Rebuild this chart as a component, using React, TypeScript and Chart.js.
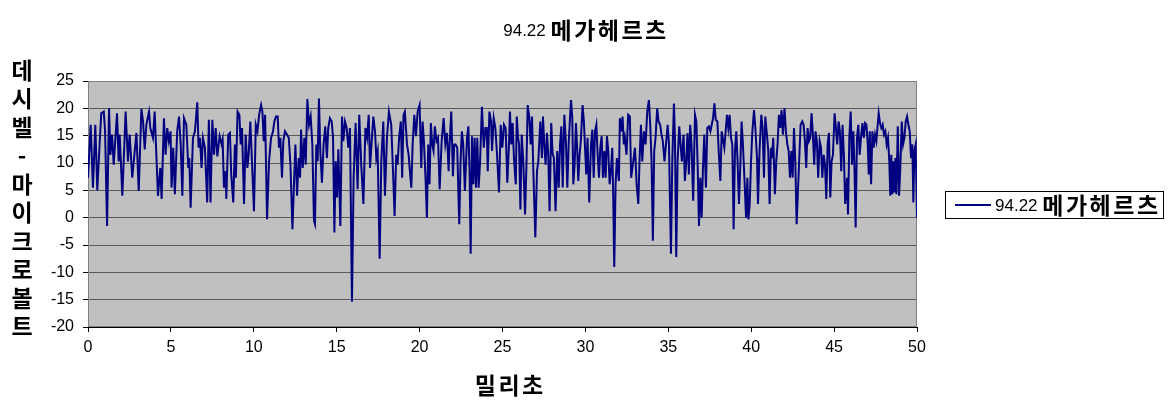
import React, { useEffect, useRef } from "react";
import { Chart, registerables } from "chart.js";

Chart.register(...registerables);

const titleNumber = "94.22";
const titleKorean = "메가헤르츠";
const seriesNumber = "94.22";
const seriesKorean = "메가헤르츠";
const yTitleChars = ["데", "시", "벨", "-", "마", "이", "크", "로", "볼", "트"];
const xTitle = "밀리초";
const xMin = 0;
const xMax = 50;
const xStep = 5;
const yMin = -20;
const yMax = 25;
const yStep = 5;

// time in milliseconds
const timeMs = [
  0.00, 0.16, 0.30, 0.44, 0.56, 0.70, 0.80, 0.95, 1.03, 1.15, 1.27, 1.35,
  1.45, 1.55, 1.75, 1.85, 1.91, 2.07, 2.27, 2.41, 2.51, 2.67, 2.92, 3.06,
  3.22, 3.32, 3.42, 3.52, 3.68, 3.76, 3.92, 4.02, 4.22, 4.36, 4.44,
  4.58, 4.68, 4.78, 4.88, 4.98, 5.04, 5.14, 5.24, 5.38, 5.49, 5.59, 5.69,
  5.79, 5.93, 6.05, 6.11, 6.19, 6.33, 6.45, 6.59, 6.67, 6.75, 6.85, 6.93,
  7.05, 7.19, 7.29, 7.39, 7.50, 7.60, 7.70, 7.80, 7.94, 8.06, 8.12, 8.20,
  8.30, 8.34, 8.46, 8.56, 8.64, 8.76, 8.86, 8.92, 9.02,
  9.13, 9.21, 9.29, 9.41, 9.51, 9.61, 9.69, 9.79, 9.89, 10.01, 10.12, 10.22,
  10.32, 10.44, 10.52, 10.60, 10.68, 10.80, 10.92, 11.04, 11.16, 11.24, 11.34, 11.44,
  11.52, 11.60, 11.70, 11.78, 11.88, 12.00, 12.11, 12.21, 12.33, 12.43, 12.51, 12.61,
  12.71, 12.79, 12.85, 12.95, 13.05, 13.13, 13.23, 13.33, 13.43, 13.53, 13.63,
  13.69, 13.77, 13.85, 13.93, 14.01, 14.11, 14.21, 14.31, 14.41, 14.49, 14.59, 14.70,
  14.78, 14.86, 14.94, 15.02, 15.10, 15.22, 15.32, 15.40, 15.50, 15.60, 15.70, 15.80,
  15.92, 16.02, 16.14, 16.26, 16.36, 16.48, 16.61, 16.73, 16.83, 16.93, 17.01, 17.11,
  17.21, 17.31, 17.39, 17.47, 17.59, 17.69, 17.81, 17.91, 18.03, 18.15,
  18.29, 18.39, 18.49, 18.59, 18.67, 18.77, 18.87, 18.95, 19.03, 19.11, 19.24, 19.34,
  19.40, 19.50, 19.58, 19.68, 19.78, 19.88, 20.00, 20.10, 20.18, 20.26, 20.36, 20.44,
  20.52, 20.60, 20.68, 20.76, 20.84, 20.92, 21.02, 21.11, 21.21, 21.33, 21.45, 21.55,
  21.65, 21.75, 21.81, 21.91, 22.01, 22.09, 22.17, 22.27, 22.39, 22.47, 22.55, 22.63, 22.73,
  22.86, 22.94, 23.02, 23.08, 23.16, 23.24, 23.32, 23.40, 23.48, 23.56, 23.64, 23.76,
  23.87, 23.97, 24.05, 24.11, 24.21, 24.31, 24.37, 24.47, 24.57, 24.67, 24.79, 24.89,
  24.99, 25.09, 25.19, 25.29, 25.39, 25.45, 25.53, 25.61, 25.69, 25.80, 25.86, 25.94,
  26.00, 26.08, 26.16, 26.26, 26.36, 26.44, 26.52, 26.62, 26.70, 26.78, 26.86, 26.98,
  27.08, 27.16, 27.28, 27.38,
  27.44, 27.52, 27.60, 27.68, 27.76, 27.84, 27.94, 28.02, 28.10, 28.20, 28.30, 28.39,
  28.47, 28.55, 28.63, 28.73, 28.83, 28.91, 28.99, 29.05, 29.13, 29.21, 29.27, 29.35,
  29.43, 29.51, 29.57, 29.65, 29.73, 29.83, 29.91, 29.97, 30.05, 30.13, 30.23, 30.34,
  30.42, 30.50, 30.58, 30.66, 30.74, 30.82, 30.90, 30.98, 31.06, 31.14, 31.22, 31.30,
  31.38, 31.46, 31.54, 31.62, 31.68, 31.74, 31.82, 31.90,
  32.02, 32.08, 32.16, 32.24, 32.32, 32.38, 32.48, 32.58, 32.68, 32.76, 32.86, 32.99,
  33.09, 33.19, 33.27, 33.35, 33.43, 33.53, 33.63, 33.73, 33.83, 33.91, 33.99, 34.07,
  34.15, 34.23, 34.33, 34.41, 34.51, 34.59, 34.67, 34.77, 34.86, 34.96, 35.04, 35.16,
  35.24, 35.34, 35.40, 35.48, 35.56, 35.66, 35.74, 35.82, 35.92, 36.00, 36.08, 36.16,
  36.24, 36.32, 36.40, 36.50,
  36.61, 36.69, 36.77, 36.85, 36.93, 37.01, 37.09, 37.17, 37.27, 37.35, 37.45, 37.54,
  37.62, 37.70, 37.78, 37.86, 37.96, 38.04, 38.14, 38.22, 38.30, 38.38, 38.46, 38.54,
  38.62, 38.70, 38.78, 38.86, 38.94, 39.02, 39.10, 39.18, 39.26, 39.34, 39.42, 39.50,
  39.59, 39.69, 39.77, 39.83, 39.91, 39.99, 40.07, 40.17, 40.25, 40.35, 40.41, 40.51,
  40.61, 40.69, 40.77, 40.85, 40.95, 41.03, 41.11,
  41.19, 41.25, 41.33, 41.43, 41.51, 41.59, 41.67, 41.75, 41.83, 41.91, 42.01, 42.09,
  42.18, 42.26, 42.34, 42.42, 42.50, 42.58, 42.66, 42.74, 42.82, 42.90, 42.98, 43.08,
  43.16, 43.24, 43.32, 43.40, 43.48, 43.56, 43.64, 43.72, 43.80, 43.88, 43.96, 44.04,
  44.13, 44.21, 44.29, 44.37, 44.45, 44.53, 44.61, 44.69, 44.77, 44.85, 44.93, 45.03,
  45.11, 45.19, 45.27, 45.35, 45.43, 45.51, 45.59, 45.67,
  45.78, 45.84, 45.92, 46.00, 46.08, 46.16, 46.22, 46.30, 46.38, 46.46, 46.54, 46.62,
  46.71, 46.79, 46.87, 46.95, 47.03, 47.09, 47.15, 47.23, 47.31, 47.39, 47.47, 47.55,
  47.63, 47.69, 47.77, 47.85, 47.93, 48.01, 48.09, 48.17, 48.25, 48.33, 48.39, 48.45,
  48.51, 48.57, 48.63, 48.70, 48.76, 48.84, 48.92, 49.00, 49.08, 49.16, 49.24, 49.32,
  49.40, 49.48, 49.56, 49.64, 49.72, 49.78, 49.84, 49.92, 50.00,
];

// level in dB microvolts
const levelDb = [
  7.3, 17.0, 5.5, 17.0, 5.0, 13.4, 19.1, 19.4, 15.8, -1.5, 20.0, 11.5,
  15.2, 9.7, 19.1, 10.3, 15.2, 4.0, 19.4, 10.3, 15.2, 7.3, 15.5, 4.9,
  19.9, 17.6, 12.5, 17.0, 19.4, 16.4, 14.6, 19.4, 4.0, 9.1, 3.4,
  18.2, 11.5, 16.4, 14.0, 15.8, 5.5, 12.8, 4.3, 15.8, 18.5, 13.4, 4.0,
  18.2, 17.0, 9.1, 10.9, 1.8, 14.6, 15.8, 21.1, 12.8, 14.6, 9.1, 14.6,
  12.8, 2.8, 17.9, 2.8, 17.9, 11.5, 16.4, 11.2, 14.9, 13.4, 14.3, 5.5,
  8.5, 3.4, 15.2, 15.5, 7.9, 2.8, 13.4, 7.3, 19.4,
  18.8, 13.4, 16.4, 2.5, 15.2, 9.1, 11.5, 17.6, 10.3, 1.2, 17.0, 15.8,
  18.8, 20.6, 19.4, 14.0, 18.8, -0.3, 10.3, 14.6, 15.8, 17.6, 18.5, 18.5,
  12.8, 14.6, 7.3, 14.0, 15.8, 15.2, 14.6, 9.7, -2.1, 6.7, 13.4, 4.0,
  10.9, 7.3, 16.1, 9.1, 14.6, 9.7, 21.7, 17.0, 18.5, 13.4, -0.6,
  -1.2, 13.4, 10.3, 21.8, 12.2, 6.4, 13.4, 16.7, 10.9, 16.4, 18.2, 17.6,
  14.6, -2.7, 10.3, 3.7, 12.5, -1.5, 18.5, 14.0, 17.6, 16.4, 12.8, 16.4,
  -15.4, 7.3, 17.3, 5.2, 18.8, 9.7, 2.5, 16.4, 14.6, 18.8, 9.1, 14.0,
  18.5, 15.8, 10.9, 12.2, -7.5, 10.3, 17.6, 4.0, 14.6, 19.4,
  17.0, 9.1, 0.3, 11.5, 9.7, 14.9, 17.6, 7.3, 18.8, 19.4, 13.4, 11.5,
  9.1, 5.5, 13.4, 18.8, 14.9, 19.4, 20.6, 9.1, 17.6, 14.0, 7.0, 0.0,
  13.4, 6.1, 17.3, 13.4, 12.2, 16.7, 14.0, 14.6, 5.2, 14.0, 18.2, 13.4,
  15.5, 8.5, 13.4, 19.4, 7.6, 13.4, 13.4, 12.8, -1.2, 10.3, 15.8, 13.4, 4.9,
  14.6, 16.7, 7.3, -6.6, 14.9, 6.1, 14.6, 5.5, 14.6, 5.5, 9.7, 20.3,
  12.8, 16.4, 16.4, 8.5, 19.4, 17.6, 12.2, 18.2, 16.4, 11.5, 4.6, 17.0,
  12.8, 17.0, 16.4, 6.4, 13.4, 19.4, 13.4, 17.3, 10.9, 6.1, 18.5, 14.6,
  13.4, 1.5, 15.2, 9.7, 0.6, 9.1, 20.6, 18.2, 13.4, 18.5, 8.5, -3.6,
  8.5, 10.3, 17.6, 10.9,
  18.5, 13.4, 9.7, 15.5, 11.5, 1.2, 17.3, 11.8, 10.9, 1.2, 12.2, 5.5,
  13.4, 16.7, 5.5, 18.8, 13.4, 5.5, 13.4, 17.0, 21.5, 18.2, 6.1, 9.7,
  17.3, 12.2, 6.7, 11.5, 14.3, 20.6, 17.6, 13.4, 7.9, 14.6, 2.8, 13.4,
  16.1, 7.3, 15.8, 17.0, 11.5, 7.3, 12.8, 14.9, 7.3, 12.2, 7.3, 14.9,
  12.2, 6.1, 8.5, 12.8, 3.7, -9.0, 6.1, 10.9,
  6.7, 18.2, 15.8, 18.5, 13.4, 14.6, 11.5, 18.8, 18.5, 7.3, 9.7, 12.8,
  6.1, 2.5, 10.9, 17.0, 10.3, 15.8, 13.4, 19.4, 21.5, 17.0, 10.3, -4.2,
  12.2, 14.6, 20.0, 17.6, 17.0, 15.2, 14.0, 10.3, 13.4, 17.0, 13.4, -6.6,
  10.3, 20.9, 14.6, -7.2, 10.3, 16.7, 13.4, 10.3, 15.2, 6.7, 10.3, 15.5,
  7.9, 17.0, 13.4, 3.1,
  18.8, 17.6, 9.7, -1.5, 7.3, 0.0, 9.1, 15.2, 5.5, 16.4, 16.7, 15.8,
  17.0, 18.2, 20.9, 17.9, 17.6, 12.2, 6.7, 15.8, 14.3, 12.8, 15.8, 18.8,
  16.4, 18.8, 14.6, 13.4, -2.1, 12.2, 15.8, 10.3, 2.5, 9.1, 17.6, 13.4,
  7.3, 0.0, 7.3, -0.3, 2.5, 10.3, 15.8, 19.7, 16.4, 10.9, 2.5, 12.8,
  18.8, 16.4, 7.3, 18.5, 15.2, 12.2, 2.5,
  12.8, 10.9, 14.6, 4.3, 10.3, 13.4, 18.8, 16.4, 19.7, 15.2, 20.0, 15.8,
  13.4, 12.2, 7.3, 12.2, 7.3, 16.4, 10.3, -1.2, 4.9, 10.9, 17.0, 17.6,
  17.0, 14.0, 9.1, 16.4, 14.0, 14.6, 19.1, 15.2, 9.7, 15.8, 14.0, 7.3,
  14.0, 12.8, 7.3, 11.5, 9.7, 3.4, 13.4, 15.5, 3.7, 10.3, 11.5, 19.1,
  16.4, 13.4, 17.6, 15.8, 8.5, 17.0, 11.5, 2.5,
  7.3, 0.6, 14.9, 19.4, 9.7, 15.8, 10.3, -1.8, 14.6, 17.0, 11.5, 14.6,
  17.3, 14.6, 17.3, 17.0, 13.4, 7.9, 15.8, 6.1, 15.8, 12.8, 15.2, 14.0,
  17.0, 19.1, 17.3, 16.4, 17.0, 15.2, 15.8, 13.4, 14.6, 10.3, 4.0, 11.5,
  4.3, 10.3, 4.6, 10.9, 4.3, 16.7, 4.0, 9.7, 17.6, 13.4, 14.6, 17.6,
  18.5, 17.0, 15.8, 10.9, 13.4, 2.8, 12.2, 13.4, 0.0,
];

const LINE_COLOR = "#000080";
const NUM_FONT = '"Liberation Sans", Arial, sans-serif';
const KO_FONT = '"Noto Sans CJK KR", "Noto Sans", sans-serif';
const KO_SIZE = 23;
const KO_SPACING = 2.5;

function setKo(ctx: any) {
  ctx.font = `bold ${KO_SIZE}px ${KO_FONT}`;
  ctx.letterSpacing = `${KO_SPACING}px`;
}
function setNum(ctx: any, size: number) {
  ctx.font = `${size}px ${NUM_FONT}`;
  ctx.letterSpacing = "0px";
}

function drawMixed(ctx: any, num: string, ko: string, x: number, y: number, align: "center" | "left") {
  ctx.save();
  ctx.textBaseline = "middle";
  ctx.fillStyle = "#000";
  ctx.textAlign = "left";
  setNum(ctx, 17);
  const numText = num + " ";
  const w1 = ctx.measureText(numText).width;
  setKo(ctx);
  const w2 = ctx.measureText(ko).width;
  const start = align === "center" ? x - (w1 + w2) / 2 : x;
  setNum(ctx, 17);
  ctx.fillText(numText, start, y + 1);
  setKo(ctx);
  ctx.fillText(ko, start + w1, y);
  ctx.restore();
}

const decorPlugin = {
  id: "decor",
  beforeDraw(chart: any) {
    const { ctx, chartArea } = chart;
    ctx.save();
    ctx.fillStyle = "#ffffff";
    ctx.fillRect(0, 0, chart.width, chart.height);
    ctx.fillStyle = "#c0c0c0";
    ctx.fillRect(chartArea.left, chartArea.top, chartArea.right - chartArea.left, chartArea.bottom - chartArea.top);
    ctx.restore();
  },
  beforeDatasetsDraw(chart: any) {
    const { ctx, chartArea } = chart;
    ctx.save();
    ctx.strokeStyle = "#808080";
    ctx.lineWidth = 1;
    ctx.strokeRect(Math.round(chartArea.left) + 0.5, Math.round(chartArea.top) + 0.5, Math.round(chartArea.right - chartArea.left) - 1, Math.round(chartArea.bottom - chartArea.top) - 1);
    ctx.restore();
  },
  afterDraw(chart: any) {
    const { ctx, chartArea } = chart;
    drawMixed(ctx, titleNumber, titleKorean, 586, 30, "center");
    ctx.save();
    ctx.fillStyle = "#000";
    ctx.textAlign = "center";
    ctx.textBaseline = "middle";
    ctx.font = `bold ${KO_SIZE}px ${KO_FONT}`;
    (ctx as any).letterSpacing = "0px";
    yTitleChars.forEach((c, i) => {
      ctx.fillText(c, 22, 70 + i * 28.5);
    });
    setKo(ctx);
    ctx.textAlign = "left";
    const w = ctx.measureText(xTitle).width;
    ctx.fillText(xTitle, 509 - (w - KO_SPACING) / 2, 385);
    ctx.restore();
    ctx.save();
    ctx.strokeStyle = "#000";
    ctx.lineWidth = 1;
    ctx.strokeRect(945.5, 191.5, 218, 27);
    ctx.strokeStyle = LINE_COLOR;
    ctx.lineWidth = 2;
    ctx.beginPath();
    ctx.moveTo(955, 205);
    ctx.lineTo(991, 205);
    ctx.stroke();
    ctx.restore();
    drawMixed(ctx, seriesNumber, seriesKorean, 995, 205, "left");
  },
};

export default function App() {
  const canvasRef = useRef<HTMLCanvasElement | null>(null);

  useEffect(() => {
    const canvas = canvasRef.current;
    if (!canvas) return;
    const n = Math.min(timeMs.length, levelDb.length);
    const points = [];
    for (let i = 0; i < n; i++) points.push({ x: timeMs[i], y: levelDb[i] });
    const tickFont = { family: NUM_FONT, size: 16 };
    const chart = new Chart(canvas, {
      type: "line",
      data: {
        datasets: [
          {
            label: `${seriesNumber} ${seriesKorean}`,
            data: points,
            borderColor: LINE_COLOR,
            backgroundColor: LINE_COLOR,
            borderWidth: 2,
            pointRadius: 0,
            tension: 0,
            fill: false,
          },
        ],
      },
      options: {
        responsive: false,
        animation: false,
        devicePixelRatio: 1,
        layout: { padding: { top: 81, right: 258, left: 0, bottom: 0 } },
        plugins: {
          legend: { display: false },
          title: { display: false },
          tooltip: { enabled: false },
        },
        scales: {
          x: {
            type: "linear",
            min: xMin,
            max: xMax,
            ticks: { stepSize: xStep, color: "#000", font: tickFont, padding: 6, maxRotation: 0, autoSkip: false },
            grid: { drawOnChartArea: false, drawTicks: true, tickLength: 5, tickColor: "#000" },
            border: { color: "#000", width: 1 },
            afterFit: (s: any) => {
              s.height = 84;
            },
          },
          y: {
            type: "linear",
            min: yMin,
            max: yMax,
            ticks: { stepSize: yStep, color: "#000", font: tickFont, padding: 9 },
            grid: { color: "#5a5a5a", lineWidth: 1, tickLength: 5, tickColor: "#000" },
            border: { color: "#000", width: 1 },
            afterFit: (s: any) => {
              s.width = 88;
            },
          },
        },
      },
      plugins: [decorPlugin],
    } as any);
    return () => chart.destroy();
  }, []);

  return (
    <div style={{ position: "fixed", left: 0, top: 0, width: 1175, height: 411, background: "#fff" }}>
      <canvas ref={canvasRef} width={1175} height={411} style={{ display: "block", width: 1175, height: 411 }} />
    </div>
  );
}
